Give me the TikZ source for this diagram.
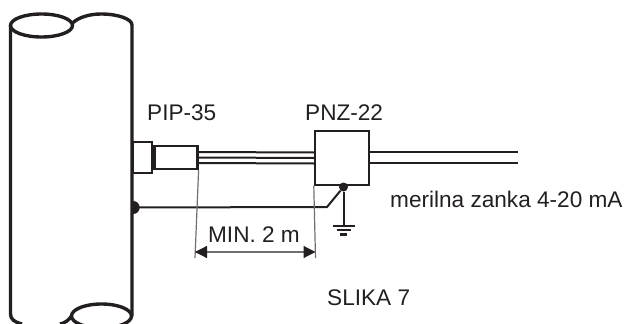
\documentclass[tikz,border=0pt]{standalone}
\usepackage{fontspec}
\setmainfont{Liberation Sans}
\usetikzlibrary{arrows.meta}
\usetikzlibrary{calc}
\usetikzlibrary{positioning}
\usetikzlibrary{shapes.geometric}
\definecolor{ink}{HTML}{231F20}
\tikzset{
  boxpart/.style={draw=ink,line width=2.4pt,inner sep=0pt,fill=white},
  wire/.style={draw=ink,line width=2pt},
  pipeline/.style={draw=ink,line width=3.4pt},
  dimline/.style={draw=ink!65,line width=1.2pt},
  label/.style={text=ink,font=\fontsize{22.6}{24}\selectfont,inner sep=0pt},
  joint/.style={circle,fill=ink,inner sep=0pt,minimum size=9pt}
}

\begin{document}
\begin{tikzpicture}[x=1pt,y=-1pt]
\useasboundingbox (0,0) rectangle (625,324);

\path[pipeline] (10.5,25) -- (10.5,314) .. controls (10.5,319) and (14,322) .. (22,324);
\path[pipeline] (60,324) .. controls (65,323) and (69,320) .. (71.5,316);
\path[pipeline] (41.5,25.5) ellipse (31 and 11.5);
\path[pipeline] (72.5,23) .. controls (78,18) and (88,14) .. (101,14) .. controls (118,14) and (132,19) .. (132,25) -- (132,316);
\path[pipeline] (101.5,316) ellipse (30 and 12);

\node[boxpart,minimum width=19pt,minimum height=31pt] (gland) at (142.5,157.5) {};
\node[boxpart,minimum width=43pt,minimum height=23pt,right=0pt of gland] (cable) {};
\node[boxpart,minimum width=54pt,minimum height=54pt] (pnz) at (342,158) {};

\coordinate[above=5.5pt of cable.east] (wa);
\coordinate[below=5.5pt of cable.east] (wc);
\coordinate[above=5.5pt of pnz.west] (wa end);
\coordinate[below=5.5pt of pnz.west] (wc end);
\path[wire] (wa) -- (wa end);
\path[wire] (cable.east) -- (pnz.west);
\path[wire] (wc) -- (wc end);

\coordinate (out a) at (518,152);
\coordinate (out b) at (518,163);
\path[wire] (pnz.east |- out a) -- (out a);
\path[wire] (pnz.east |- out b) -- (out b);

\node[joint] (tap) at (343.5,187) {};
\node[joint,semicircle,rotate=-90,minimum size=6.5pt,anchor=chord center] (wall) at (133,207.5) {};
\coordinate (bend) at (327,207);
\path[wire] (wall.chord center) -- (bend) -- (tap);

\coordinate (earth) at (343.5,226);
\path[wire] (tap) -- (earth);
\path[wire] ($(earth)+(-11,0)$) -- ($(earth)+(11,0)$);
\path[wire] ($(earth)+(-7,4)$) -- ($(earth)+(7,4)$);
\path[wire,line width=3pt] ($(earth)+(-3.5,8)$) -- ($(earth)+(3.5,8)$);

\coordinate (dim a) at (195,258);
\coordinate (dim b) at (315.5,258);
\path[dimline] (cable.south east) -- (dim a);
\path[dimline] (pnz.south west) -- (dim b);
\coordinate (arrow a) at (195,252);
\coordinate (arrow b) at (315.5,252);
\draw[dimline,{Triangle[length=12pt,width=12pt,color=ink]}-{Triangle[length=12pt,width=12pt,color=ink]}] (arrow a) -- (arrow b);

\node[label,anchor=base] (min) at (254,242) {MIN. 2 m};
\node[label,anchor=base west] (pip) at (147,120) {PIP-35};
\node[label,anchor=base west] (pnzname) at (305,120) {PNZ-22};
\node[label,anchor=base west] (loop) at (390,207) {merilna zanka 4-20 mA};
\node[label,anchor=base west] (fig) at (327,305) {SLIKA 7};
\end{tikzpicture}
\end{document}
